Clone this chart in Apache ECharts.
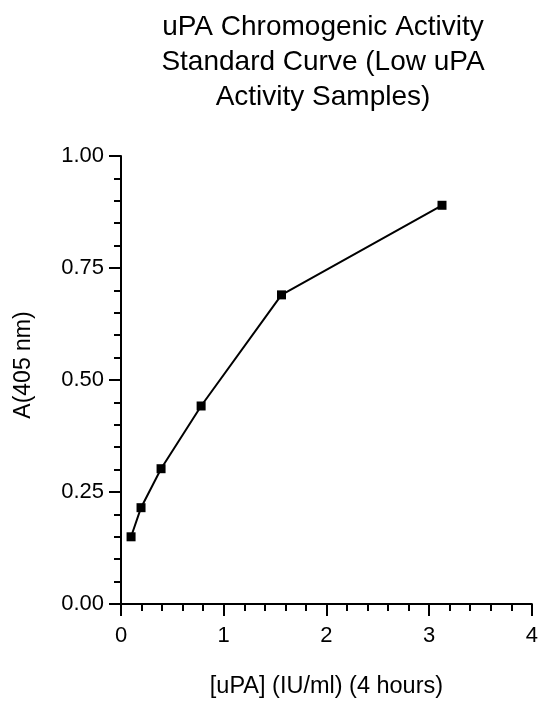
<!DOCTYPE html>
<html>
<head>
<meta charset="utf-8">
<script src="https://cdn.jsdelivr.net/npm/echarts@6/dist/echarts.min.js"></script>
<style>
  html, body { margin: 0; padding: 0; background: #fff; }
  #chart { width: 541px; height: 704px; }
</style>
</head>
<body>
<div id="chart"></div>
<script>
// uPA concentration (IU/ml) and absorbance
const upa = [0.098, 0.195, 0.39, 0.78, 1.5625, 3.125];
const absorb = [0.15, 0.215, 0.302, 0.442, 0.69, 0.89];

const font = '"Liberation Sans", Arial, sans-serif';

let myChart = echarts.init(document.getElementById('chart'));

let option = {
  animation: false,
  title: {
    text: 'uPA Chromogenic Activity\nStandard Curve (Low uPA\nActivity Samples)',
    left: 318,
    top: 5,
    textAlign: 'center',
    textStyle: {
      fontFamily: font,
      fontSize: 28,
      fontWeight: 'normal',
      color: '#000',
      lineHeight: 35
    }
  },
  grid: {
    left: 121,
    right: 8,
    top: 156,
    bottom: 100
  },
  xAxis: {
    type: 'value',
    min: 0,
    max: 4,
    interval: 1,
    name: '[uPA] (IU/ml) (4 hours)',
    nameLocation: 'middle',
    nameGap: 71,
    nameTextStyle: { fontFamily: font, fontSize: 23.5, color: '#000' },
    axisLine: { lineStyle: { color: '#000', width: 2 } },
    axisTick: { length: 12, lineStyle: { color: '#000', width: 2 } },
    minorTick: { show: true, splitNumber: 5, length: 7, lineStyle: { color: '#000', width: 2 } },
    axisLabel: { fontFamily: font, fontSize: 22, color: '#000', margin: 21 },
    splitLine: { show: false }
  },
  yAxis: {
    type: 'value',
    min: 0,
    max: 1,
    interval: 0.25,
    name: 'A(405 nm)',
    nameLocation: 'middle',
    nameGap: 86,
    nameTextStyle: { fontFamily: font, fontSize: 23, color: '#000', padding: [0, 0, 0, 30] },
    axisLine: { show: true, lineStyle: { color: '#000', width: 2 } },
    axisTick: { show: true, length: 12, lineStyle: { color: '#000', width: 2 } },
    minorTick: { show: true, splitNumber: 5, length: 7, lineStyle: { color: '#000', width: 2 } },
    axisLabel: {
      fontFamily: font, fontSize: 22, color: '#000', margin: 17,
      formatter: v => v.toFixed(2)
    },
    splitLine: { show: false }
  },
  series: [
    {
      type: 'line',
      data: upa.map((x, i) => [x, absorb[i]]),
      symbol: 'rect',
      symbolSize: 9,
      itemStyle: { color: '#000' },
      lineStyle: { color: '#000', width: 2 }
    }
  ]
};

myChart.setOption(option);
</script>
</body>
</html>
